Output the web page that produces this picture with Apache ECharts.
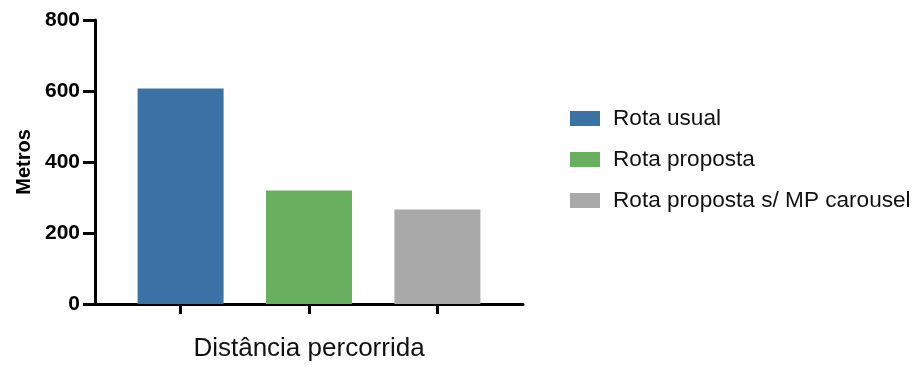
<!DOCTYPE html>
<html>
<head>
<meta charset="utf-8">
<script src="https://cdn.jsdelivr.net/npm/echarts@6/dist/echarts.min.js"></script>
<style>
  html, body { margin: 0; padding: 0; background: #fff; }
  #chart { width: 921px; height: 367px; }
</style>
</head>
<body>
<div id="chart"></div>
<script>
// Route names (one bar each) and travelled distance in metres
const routes = ['Rota usual', 'Rota proposta', 'Rota proposta s/ MP carousel'];
const distances = [607, 320, 266];
const colors = ['#3a72a5', '#68b05f', '#a9a9a9'];
const yTicks = { min: 0, max: 800, interval: 200 };

const font = 'Liberation Sans, Arial, Helvetica, sans-serif';

// One series per route so each gets its own legend entry; bars share a slot
const series = routes.map((name, i) => ({
  name: name,
  type: 'bar',
  barWidth: 86,
  barGap: '-100%',
  itemStyle: { color: colors[i] },
  data: [[i, distances[i]]]
}));

const chart = echarts.init(document.getElementById('chart'), null, { renderer: 'canvas' });
chart.setOption({
  animation: false,
  textStyle: { fontFamily: font },
  grid: { left: 95, top: 20, width: 428, height: 287, containLabel: false },
  legend: {
    orient: 'vertical',
    left: 565,
    top: 102,
    itemWidth: 30,
    itemHeight: 15,
    itemGap: 18,
    icon: 'rect',
    textStyle: { fontFamily: font, fontSize: 22.6, color: '#111', lineHeight: 22, padding: [0, 0, 0, 8] },
    data: routes
  },
  xAxis: {
    type: 'value',
    min: -2 / 3,
    max: routes.length - 1 + 2 / 3,
    name: 'Distância percorrida',
    nameLocation: 'middle',
    nameGap: 32,
    nameTextStyle: { fontFamily: font, fontSize: 26, color: '#111' },
    splitLine: { show: false },
    axisLine: { show: true, onZero: false, lineStyle: { color: '#000', width: 3 } },
    axisTick: {
      show: true,
      customValues: routes.map((_, i) => i),
      length: 10,
      lineStyle: { color: '#000', width: 3 }
    },
    axisLabel: { show: false }
  },
  yAxis: {
    type: 'value',
    min: yTicks.min,
    max: yTicks.max,
    interval: yTicks.interval,
    name: 'Metros',
    nameLocation: 'middle',
    nameRotate: 90,
    nameGap: 61,
    nameTextStyle: { fontFamily: font, fontSize: 20, fontWeight: 'bold', color: '#000' },
    splitLine: { show: false },
    axisLine: { show: true, onZero: false, lineStyle: { color: '#000', width: 3 } },
    axisTick: { show: true, length: 12, lineStyle: { color: '#000', width: 3 } },
    axisLabel: { fontFamily: font, fontSize: 21, fontWeight: 'bold', color: '#000', margin: 15 }
  },
  series: series
});
</script>
</body>
</html>
